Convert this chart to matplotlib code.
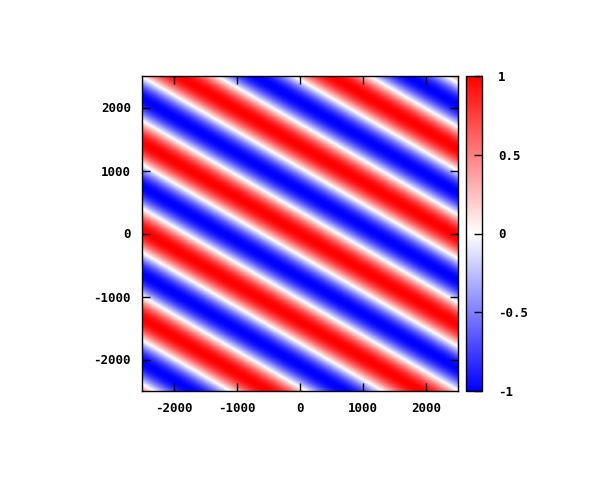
import numpy as np
import matplotlib
matplotlib.use('Agg')
import matplotlib.pyplot as plt
from matplotlib.colors import LinearSegmentedColormap

plt.rcParams['font.family'] = ['DejaVu Sans Mono']
plt.rcParams['font.weight'] = 'bold'
plt.rcParams['font.size'] = 9
plt.rcParams['axes.unicode_minus'] = False

# plane wave
x_range = [-2500, 2500]
y_range = [-2500, 2500]
wavelength = 1210.0     # along the wave direction
angle_deg = 30.0        # wave vector angle from the y axis
phase = 0.0
n_grid = 400

xticks = [-2000, -1000, 0, 1000, 2000]
yticks = [-2000, -1000, 0, 1000, 2000]
cbticks = [-1, -0.5, 0, 0.5, 1]
cblabels = ['-1', '-0.5', '0', '0.5', '1']

xs = np.linspace(x_range[0], x_range[1], n_grid)
ys = np.linspace(y_range[0], y_range[1], n_grid)
X, Y = np.meshgrid(xs, ys)
th = np.deg2rad(angle_deg)
k = 2 * np.pi / wavelength
Z = np.cos(k * (X * np.sin(th) + Y * np.cos(th)) + phase)

cmap = LinearSegmentedColormap.from_list('bwr_gp', [(0, 0, 1), (1, 1, 1), (1, 0, 0)])

fig = plt.figure(figsize=(6, 4.8), dpi=100)
ax = fig.add_axes([142 / 600, 89 / 480, 315.5 / 600, 315 / 480])
im = ax.imshow(Z, origin='lower', extent=[x_range[0], x_range[1], y_range[0], y_range[1]],
               cmap=cmap, vmin=-1, vmax=1, aspect='auto', interpolation='bilinear')
ax.set_xlim(x_range)
ax.set_ylim(y_range)
ax.set_xticks(xticks)
ax.set_yticks(yticks)
ax.tick_params(direction='in', length=6, width=1, top=True, right=True, pad=8, colors='black')
for s in ax.spines.values():
    s.set_linewidth(1)

cax = fig.add_axes([466 / 600, 89 / 480, 15.5 / 600, 315 / 480])
cb = fig.colorbar(im, cax=cax, ticks=cbticks)
cb.ax.set_yticklabels(cblabels)
cb.ax.tick_params(direction='in', length=6, width=1, pad=12)
cb.outline.set_linewidth(1)

plt.savefig('out.png', dpi=100)
